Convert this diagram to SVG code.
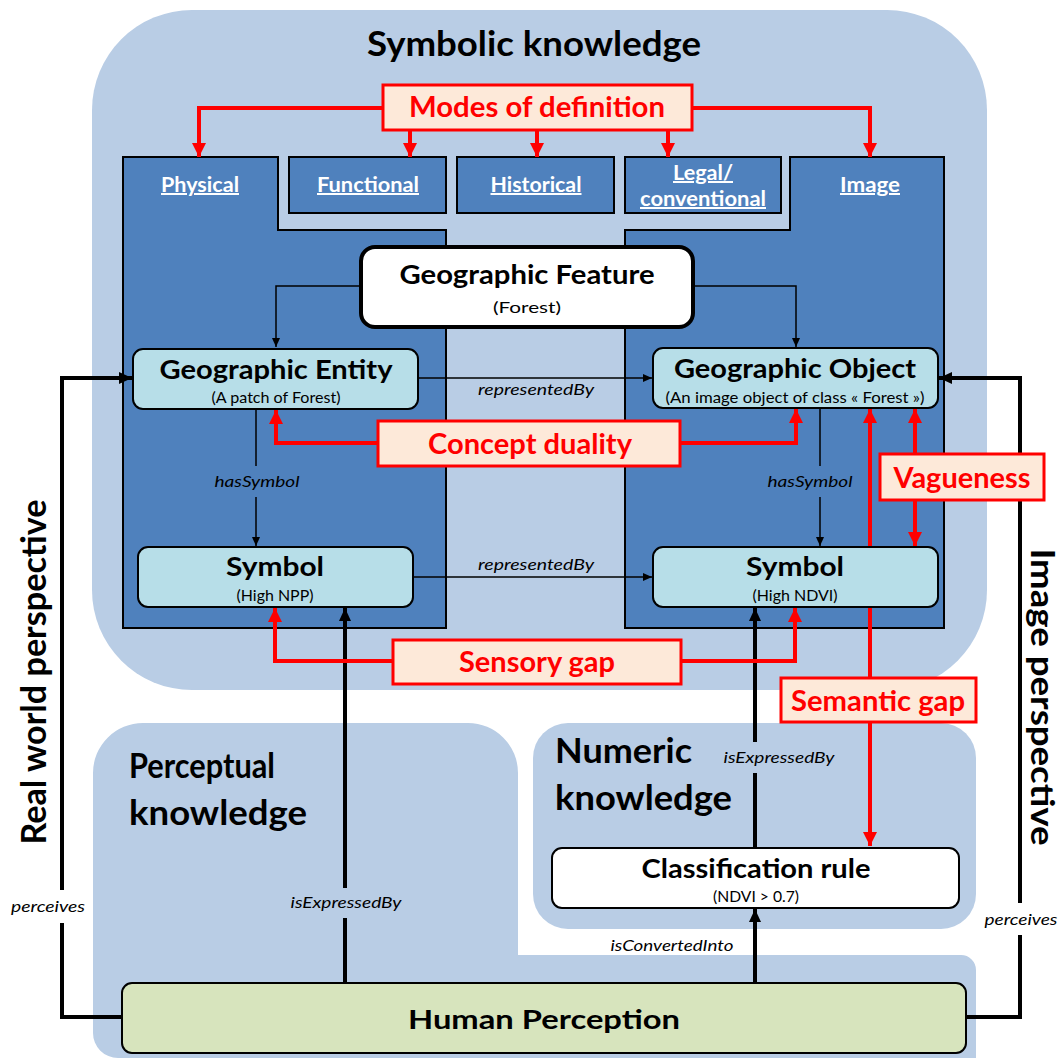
<svg xmlns="http://www.w3.org/2000/svg" width="1063" height="1058" viewBox="0 0 1063 1058">
<style>
text{font-family:Lato,"Open Sans","Liberation Sans",sans-serif;fill:#000}
.panel{fill:#B9CDE5}
.dark{fill:#4F81BD;stroke:#000;stroke-width:2}
.node{fill:#B7DEE8;stroke:#000;stroke-width:2}
.white{fill:#fff;stroke:#000;stroke-width:2}
.green{fill:#D7E4BD;stroke:#000;stroke-width:2}
.issue{fill:#FDE9D9;stroke:#FF0000;stroke-width:3}
.ptitle{font-size:35px;font-weight:bold}
.mode{font-size:20px;font-weight:bold;fill:#fff;text-decoration:underline;text-anchor:middle}
.ntitle{font-size:27px;font-weight:bold;text-anchor:middle}
.nsub{font-size:15px;text-anchor:middle}
.itext{font-size:28px;font-weight:bold;fill:#FF0000;text-anchor:middle}
.rel{font-size:16px;font-style:italic;text-anchor:middle}
.thin{fill:none;stroke:#000;stroke-width:1.5}
.thick{fill:none;stroke:#000;stroke-width:4}
.red{fill:none;stroke:#FF0000;stroke-width:4}
</style>
<defs>
<marker id="aThin" markerUnits="userSpaceOnUse" markerWidth="9" markerHeight="8" refX="9" refY="4" orient="auto"><path d="M0,0 L9,4 L0,8 z" fill="#000"/></marker>
<marker id="aThick" markerUnits="userSpaceOnUse" markerWidth="13" markerHeight="12" refX="13" refY="6" orient="auto"><path d="M0,0 L13,6 L0,12 z" fill="#000"/></marker>
<marker id="aRed" markerUnits="userSpaceOnUse" markerWidth="14" markerHeight="14" refX="14" refY="7" orient="auto"><path d="M0,0 L14,7 L0,14 z" fill="#FF0000"/></marker>
</defs>

<g id="panels">
<rect id="symbolic-panel" class="panel" x="92" y="10" width="895" height="680" rx="100"/>
<path id="perceptual-panel" class="panel" d="M93,773 A50,50 0 0 1 143,723 H468 A50,50 0 0 1 518,773 V955 H961 A15,15 0 0 1 976,970 V1058 H118 A25,25 0 0 1 93,1033 Z"/>
<rect id="numeric-panel" class="panel" x="533" y="723" width="443" height="206" rx="35"/>
<text x="534" y="56" font-size="35" font-weight="bold" text-anchor="middle" textLength="334" lengthAdjust="spacingAndGlyphs">Symbolic knowledge</text>
<text class="ptitle" x="129" y="778" textLength="146" lengthAdjust="spacingAndGlyphs">Perceptual</text>
<text class="ptitle" x="129" y="825" textLength="178" lengthAdjust="spacingAndGlyphs">knowledge</text>
<text class="ptitle" x="555" y="763" textLength="137" lengthAdjust="spacingAndGlyphs">Numeric</text>
<text class="ptitle" x="555" y="810" textLength="177" lengthAdjust="spacingAndGlyphs">knowledge</text>
</g>

<g id="modes">
<g id="physical"><path class="dark" d="M123,157 H278 V230 H446 V628 H123 Z"/><text class="mode" x="200" y="192" textLength="78" lengthAdjust="spacingAndGlyphs">Physical</text></g>
<g id="functional"><rect class="dark" x="289" y="157" width="157" height="56"/><text class="mode" x="368" y="192" textLength="102" lengthAdjust="spacingAndGlyphs">Functional</text></g>
<g id="historical"><rect class="dark" x="457" y="157" width="157" height="56"/><text class="mode" x="536" y="192" textLength="91" lengthAdjust="spacingAndGlyphs">Historical</text></g>
<g id="legal"><rect class="dark" x="625" y="157" width="156" height="56"/><text class="mode" x="703" y="180" textLength="60" lengthAdjust="spacingAndGlyphs">Legal/</text><text class="mode" x="703" y="206" textLength="126" lengthAdjust="spacingAndGlyphs">conventional</text></g>
<g id="image"><path class="dark" d="M790,157 H944 V628 H625 V230 H790 Z"/><text class="mode" x="870" y="192" textLength="60" lengthAdjust="spacingAndGlyphs">Image</text></g>
</g>

<g id="connectors">
<path class="thin" d="M361,286 H276 V347" marker-end="url(#aThin)"/>
<path class="thin" d="M693,286 H796 V347" marker-end="url(#aThin)"/>
<path class="thin" d="M418,378 H652" marker-end="url(#aThin)"/>
<path class="thin" d="M413,577 H652" marker-end="url(#aThin)"/>
<path class="thin" d="M256,409 V466"/>
<path class="thin" d="M256,497 V546" marker-end="url(#aThin)"/>
<path class="thin" d="M820,408 V466"/>
<path class="thin" d="M820,497 V546" marker-end="url(#aThin)"/>
<path class="thick" d="M345,983 V918"/>
<path class="thick" d="M345,888 V608" marker-end="url(#aThick)"/>
<path class="thick" d="M755,848 V773"/>
<path class="thick" d="M755,742 V608" marker-end="url(#aThick)"/>
<path class="thick" d="M755,983 V909" marker-end="url(#aThick)"/>
<path class="thick" d="M122,1017 H62 V923"/>
<path class="thick" d="M62,890 V378 H132" marker-end="url(#aThick)"/>
<path class="thick" d="M966,1017 H1020 V935"/>
<path class="thick" d="M1020,903 V378 H939" marker-end="url(#aThick)"/>
<path class="red" d="M383,108 H199 V157" marker-end="url(#aRed)"/>
<path class="red" d="M692,108 H870 V157" marker-end="url(#aRed)"/>
<path class="red" d="M410,130 V157" marker-end="url(#aRed)"/>
<path class="red" d="M537,130 V157" marker-end="url(#aRed)"/>
<path class="red" d="M668,130 V157" marker-end="url(#aRed)"/>
<path class="red" d="M378,443 H276 V410" marker-end="url(#aRed)"/>
<path class="red" d="M680,443 H796 V409" marker-end="url(#aRed)"/>
<path class="red" d="M393,661 H275 V608" marker-end="url(#aRed)"/>
<path class="red" d="M681,661 H795 V608" marker-end="url(#aRed)"/>
<path class="red" d="M915,454 V409" marker-end="url(#aRed)"/>
<path class="red" d="M915,500 V546" marker-end="url(#aRed)"/>
<path class="red" d="M870,678 V409" marker-end="url(#aRed)"/>
<path class="red" d="M870,722 V846" marker-end="url(#aRed)"/>
<text class="rel" x="536" y="395" textLength="116" lengthAdjust="spacingAndGlyphs">representedBy</text>
<text class="rel" x="536" y="570" textLength="116" lengthAdjust="spacingAndGlyphs">representedBy</text>
<text class="rel" x="257" y="487" textLength="85" lengthAdjust="spacingAndGlyphs">hasSymbol</text>
<text class="rel" x="810" y="487" textLength="85" lengthAdjust="spacingAndGlyphs">hasSymbol</text>
<text class="rel" x="346" y="908" textLength="111" lengthAdjust="spacingAndGlyphs">isExpressedBy</text>
<text class="rel" x="779" y="763" textLength="111" lengthAdjust="spacingAndGlyphs">isExpressedBy</text>
<text class="rel" x="672" y="951" textLength="123" lengthAdjust="spacingAndGlyphs">isConvertedInto</text>
<text class="rel" x="48" y="912" textLength="74" lengthAdjust="spacingAndGlyphs">perceives</text>
<text class="rel" x="1021" y="925" textLength="73" lengthAdjust="spacingAndGlyphs">perceives</text>
</g>

<g id="geographic-feature"><rect x="361" y="247" width="332" height="80" rx="14" fill="#fff" stroke="#000" stroke-width="4"/><text class="ntitle" x="527" y="284" font-size="28" textLength="255" lengthAdjust="spacingAndGlyphs">Geographic Feature</text><text class="nsub" x="527" y="313" font-size="18" textLength="68" lengthAdjust="spacingAndGlyphs">(Forest)</text></g>
<g id="geographic-entity"><rect class="node" x="133" y="349" width="285" height="60" rx="10"/><text class="ntitle" x="276" y="379" textLength="233" lengthAdjust="spacingAndGlyphs">Geographic Entity</text><text class="nsub" x="276" y="403" textLength="129" lengthAdjust="spacingAndGlyphs">(A patch of Forest)</text></g>
<g id="geographic-object"><rect class="node" x="653" y="348" width="285" height="60" rx="10"/><text class="ntitle" x="795" y="378" textLength="242" lengthAdjust="spacingAndGlyphs">Geographic Object</text><text class="nsub" x="795" y="403" textLength="259" lengthAdjust="spacingAndGlyphs">(An image object of class « Forest »)</text></g>
<g id="symbol-left"><rect class="node" x="138" y="547" width="275" height="60" rx="10"/><text class="ntitle" x="275" y="576" textLength="98" lengthAdjust="spacingAndGlyphs">Symbol</text><text class="nsub" x="275" y="601" textLength="77" lengthAdjust="spacingAndGlyphs">(High NPP)</text></g>
<g id="symbol-right"><rect class="node" x="653" y="547" width="285" height="60" rx="10"/><text class="ntitle" x="795" y="576" textLength="98" lengthAdjust="spacingAndGlyphs">Symbol</text><text class="nsub" x="795" y="601" textLength="85" lengthAdjust="spacingAndGlyphs">(High NDVI)</text></g>
<g id="classification-rule"><rect class="white" x="552" y="848" width="407" height="60" rx="10"/><text class="ntitle" x="756" y="878" textLength="229" lengthAdjust="spacingAndGlyphs">Classification rule</text><text class="nsub" x="756" y="902" font-size="14" textLength="86" lengthAdjust="spacingAndGlyphs">(NDVI &gt; 0.7)</text></g>
<g id="human-perception"><rect class="green" x="122" y="983" width="844" height="70" rx="10"/><text class="ntitle" x="544" y="1029" font-size="31" textLength="272" lengthAdjust="spacingAndGlyphs">Human Perception</text></g>

<g id="modes-of-definition"><rect class="issue" x="383" y="85" width="309" height="45"/><text class="itext" x="537" y="117" textLength="256" lengthAdjust="spacingAndGlyphs">Modes of definition</text></g>
<g id="concept-duality"><rect class="issue" x="378" y="421" width="302" height="45"/><text class="itext" x="530" y="454" textLength="204" lengthAdjust="spacingAndGlyphs">Concept duality</text></g>
<g id="vagueness"><rect class="issue" x="880" y="454" width="164" height="46"/><text class="itext" x="962" y="488" textLength="137" lengthAdjust="spacingAndGlyphs">Vagueness</text></g>
<g id="sensory-gap"><rect class="issue" x="393" y="640" width="288" height="44"/><text class="itext" x="537" y="672" textLength="156" lengthAdjust="spacingAndGlyphs">Sensory gap</text></g>
<g id="semantic-gap"><rect class="issue" x="781" y="678" width="195" height="44"/><text class="itext" x="878" y="711" textLength="174" lengthAdjust="spacingAndGlyphs">Semantic gap</text></g>

<g id="perspectives">
<text transform="translate(46,672) rotate(-90)" font-size="34" font-weight="bold" text-anchor="middle" textLength="345" lengthAdjust="spacingAndGlyphs">Real world perspective</text>
<text transform="translate(1031,697) rotate(90)" font-size="32" font-weight="bold" text-anchor="middle" textLength="297" lengthAdjust="spacingAndGlyphs">Image perspective</text>
</g>
</svg>
